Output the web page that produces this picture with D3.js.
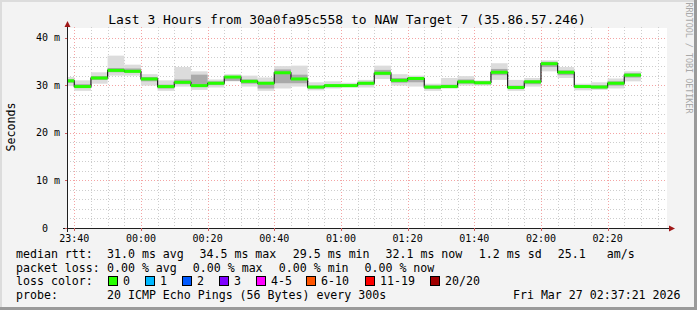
<!DOCTYPE html>
<html><head><meta charset="utf-8">
<script src="https://cdn.jsdelivr.net/npm/d3@7"></script>
<style>
html,body{margin:0;padding:0;background:#f3f3f3;}
svg{display:block;}
text{font-family:"DejaVu Sans Mono",monospace;fill:#000;}
</style></head>
<body>
<svg id="chart" width="697" height="310"></svg>
<script>
// ---- data ----
const title = "Last 3 Hours from 30a0fa95c558 to NAW Target 7 (35.86.57.246)";
const yAxisLabel = "Seconds";
const watermark = "RRDTOOL / TOBI OETIKER";
const intervalStarts = ["23:35","23:40","23:45","23:50","23:55","00:00","00:05","00:10","00:15","00:20","00:25","00:30","00:35","00:40","00:45","00:50","00:55","01:00","01:05","01:10","01:15","01:20","01:25","01:30","01:35","01:40","01:45","01:50","01:55","02:00","02:05","02:10","02:15","02:20","02:25"];
const medianMs = [30.9,29.7,31.5,33.1,32.9,31.3,29.7,30.6,29.9,30.4,31.7,30.8,30.4,32.6,31.3,29.6,29.9,29.9,30.4,32.5,31.0,31.4,29.6,29.7,30.7,30.5,32.7,29.5,30.7,34.5,32.7,29.7,29.6,30.4,32.1];
const smokeMin = [29.8,28.8,30.3,32.0,32.0,29.9,28.8,29.7,29.0,29.5,30.8,29.7,28.8,29.3,29.7,28.9,29.3,29.5,29.5,31.3,29.9,29.7,28.8,29.3,29.9,29.9,31.1,28.8,29.7,32.9,31.5,28.9,29.0,29.3,30.8];
const smokeQ1  = [30.5,29.4,31.1,32.7,32.6,30.8,29.3,30.2,29.6,30.0,30.9,30.3,29.3,30.4,30.4,29.3,29.6,29.7,30.0,32.1,30.5,30.6,29.2,29.5,30.3,30.2,32.1,29.2,30.2,33.8,32.1,29.4,29.3,29.9,31.6];
const smokeQ3  = [31.2,30.2,31.9,33.6,33.5,31.7,30.1,31.2,32.2,30.8,31.9,31.2,30.7,33.3,32.2,29.9,30.2,30.2,30.7,33.2,31.5,31.7,29.9,30.1,31.2,30.8,33.4,29.9,31.0,34.9,33.1,30.0,30.0,30.8,32.5];
const smokeMax = [31.7,31.0,32.7,36.2,34.3,32.3,31.0,33.8,32.9,31.2,32.3,32.0,31.6,34.0,34.1,30.6,30.8,30.5,31.1,34.1,32.3,32.0,30.3,31.5,31.9,31.0,34.6,31.1,31.5,35.2,33.8,30.3,30.6,31.4,32.9];
const yTickValues = [0,10,20,30,40];
const yTickLabels = [" 0  ","10 m","20 m","30 m","40 m"];
const legendRtt = ["median rtt:","31.0 ms avg","34.5 ms max","29.5 ms min","32.1 ms now","1.2 ms sd","25.1","am/s"];
const legendLoss = ["packet loss:","0.00 % avg","0.00 % max","0.00 % min","0.00 % now"];
const lossLabels = ["0","1","2","3","4-5","6-10","11-19","20/20"];
const lossColors = ["#26ff00","#00b8ff","#0059ff","#7e00ff","#ff00ff","#ff5500","#ff0000","#a10000"];
const probeText = ["probe:","20 ICMP Echo Pings (56 Bytes) every 300s","Fri Mar 27 02:37:21 2026"];

// ---- layout ----
const W = 697, H = 310;
const PX0 = 67, PX1 = 667, PY0 = 28, PY1 = 228;
const svg = d3.select("#chart");

const toDate = s => { const [h,m] = s.split(":").map(Number); return new Date(Date.UTC(2026,2, h>=12?26:27, h, m)); };
const rows = intervalStarts.map((s,i)=>({t0:toDate(s), t1:new Date(toDate(s).getTime()+300000),
  med:medianMs[i], mn:smokeMin[i], q1:smokeQ1[i], q3:smokeQ3[i], mx:smokeMax[i]}));

const x = d3.scaleUtc().domain([new Date(Date.UTC(2026,2,26,23,37,49)), new Date(Date.UTC(2026,2,27,2,37,49))]).range([PX0,PX1]);
const y = d3.scaleLinear().domain([0,42]).range([PY1,PY0]);

// background + frame
svg.append("rect").attr("width",W).attr("height",H).attr("fill","#f3f3f3");
svg.append("rect").attr("x",0).attr("y",0).attr("width",W).attr("height",2).attr("fill","#dcdcdc");
svg.append("rect").attr("x",0).attr("y",0).attr("width",2).attr("height",H).attr("fill","#dcdcdc");
svg.append("rect").attr("x",W-3).attr("y",0).attr("width",3).attr("height",H).attr("fill","#9a9a9a");
svg.append("rect").attr("x",0).attr("y",H-3).attr("width",W).attr("height",3).attr("fill","#9a9a9a");
svg.append("rect").attr("x",PX0).attr("y",PY0).attr("width",PX1-PX0).attr("height",PY1-PY0).attr("fill","#fff");

// grid
const g = svg.append("g");
const minorCol = "#cdcdcd", majorCol = "#f4a4a4", dash = "1,2";
const minorY = d3.range(2,42,2).filter(v=>v%10!==0);
g.selectAll(".gy").data(minorY).join("line").attr("x1",PX0).attr("x2",PX1)
  .attr("y1",d=>Math.round(y(d))+0.5).attr("y2",d=>Math.round(y(d))+0.5)
  .attr("stroke",minorCol).attr("stroke-dasharray",dash);
const minorX = x.ticks(d3.utcMinute.every(5)).filter(d=>d.getUTCMinutes()%20!==0);
g.selectAll(".gx").data(minorX).join("line").attr("y1",PY0-1).attr("y2",PY1)
  .attr("x1",d=>Math.round(x(d))+0.5).attr("x2",d=>Math.round(x(d))+0.5)
  .attr("stroke",minorCol).attr("stroke-dasharray",dash);
const majorX = x.ticks(d3.utcMinute.every(20));
g.selectAll(".mx").data(majorX).join("line").attr("y1",PY0-1).attr("y2",PY1)
  .attr("x1",d=>Math.round(x(d))+0.5).attr("x2",d=>Math.round(x(d))+0.5)
  .attr("stroke",majorCol).attr("stroke-dasharray",dash);
g.selectAll(".my").data(yTickValues.filter(v=>v>0)).join("line").attr("x1",PX0).attr("x2",PX1)
  .attr("y1",d=>Math.round(y(d))+0.5).attr("y2",d=>Math.round(y(d))+0.5)
  .attr("stroke",majorCol).attr("stroke-dasharray",dash);

// smoke + median
svg.append("clipPath").attr("id","clip").append("rect").attr("x",PX0).attr("y",PY0-2).attr("width",PX1-PX0).attr("height",PY1-PY0+2);
const plot = svg.append("g").attr("clip-path","url(#clip)");
plot.selectAll(".s0").data(rows).join("rect")
  .attr("x",d=>x(d.t0)).attr("width",d=>x(d.t1)-x(d.t0))
  .attr("y",d=>y(d.mx)).attr("height",d=>y(d.mn)-y(d.mx)).attr("fill","#dcdcdc");
plot.selectAll(".s1").data(rows).join("rect")
  .attr("x",d=>x(d.t0)).attr("width",d=>x(d.t1)-x(d.t0))
  .attr("y",d=>y(d.q3)).attr("height",d=>y(d.q1)-y(d.q3)).attr("fill","#aaaaaa");
const stepPts = rows.flatMap(d=>[[x(d.t0),y(d.med)],[x(d.t1),y(d.med)]]);
plot.append("path").attr("d",d3.line()(stepPts)).attr("fill","none").attr("stroke","#202020").attr("stroke-width",1.2);
plot.selectAll(".med").data(rows).join("rect")
  .attr("x",d=>x(d.t0)).attr("width",d=>x(d.t1)-x(d.t0))
  .attr("y",d=>y(d.med)-1.5).attr("height",3).attr("fill",lossColors[0]);

// axes
const axisCol = "#1f1f1f", arrowCol = "#a01818";
svg.append("line").attr("x1",PX0-4).attr("x2",PX1+4).attr("y1",PY1+0.5).attr("y2",PY1+0.5).attr("stroke",axisCol);
svg.append("line").attr("x1",PX0+0.5).attr("x2",PX0+0.5).attr("y1",PY1+4).attr("y2",PY0-5).attr("stroke",axisCol);
svg.append("path").attr("d",`M${PX1+2},${PY1-2.5}L${PX1+8},${PY1+0.5}L${PX1+2},${PY1+3.5}Z`).attr("fill",arrowCol);
svg.append("path").attr("d",`M${PX0-2.5},${PY0-1}L${PX0+0.5},${PY0-7}L${PX0+3.5},${PY0-1}Z`).attr("fill",arrowCol);
svg.selectAll(".xt").data(majorX).join("line").attr("x1",d=>Math.round(x(d))+0.5).attr("x2",d=>Math.round(x(d))+0.5)
  .attr("y1",PY1).attr("y2",PY1+3).attr("stroke","#d06060");
svg.selectAll(".yt").data(yTickValues).join("line").attr("x1",PX0-2).attr("x2",PX0)
  .attr("y1",d=>Math.round(y(d))+0.5).attr("y2",d=>Math.round(y(d))+0.5).attr("stroke","#d06060");

// tick labels
svg.selectAll(".xl").data(majorX).join("text").attr("x",d=>x(d)).attr("y",241.5)
  .attr("text-anchor","middle").attr("font-size","10px").text(d3.utcFormat("%H:%M"));
svg.selectAll(".yl").data(yTickValues).join("text").attr("x",36).attr("y",d=>y(d)+3.5)
  .attr("font-size","10px").attr("xml:space","preserve").style("white-space","pre").text((d,i)=>yTickLabels[i]);

// titles
svg.append("text").attr("x",347).attr("y",24).attr("text-anchor","middle").attr("font-size","13px").text(title);
svg.append("text").attr("transform","translate(15,127) rotate(-90)").attr("text-anchor","middle").attr("font-size","11.6px").text(yAxisLabel);
svg.append("text").attr("transform","translate(685.5,58) rotate(90)").attr("text-anchor","middle").attr("font-size","8.4px")
  .style("fill","#a8a8a8").text(watermark);

// legend
const LF = "11.6px";
const rttX = [16,107,199.5,292.8,385.5,478.8,557.8,606.8];
legendRtt.forEach((t,i)=>svg.append("text").attr("x",rttX[i]).attr("y",258).attr("font-size",LF).text(t));
const lossX = [16,107,192.8,278.8,364.5];
legendLoss.forEach((t,i)=>svg.append("text").attr("x",lossX[i]).attr("y",271.5).attr("font-size",LF).text(t));
svg.append("text").attr("x",16).attr("y",285).attr("font-size",LF).text("loss color:");
const boxX = [108.5,145.5,182.5,219.5,256.5,306.5,365.5,430.5];
lossLabels.forEach((t,i)=>{
  svg.append("rect").attr("x",boxX[i]).attr("y",276.5).attr("width",9).attr("height",9).attr("fill",lossColors[i]).attr("stroke","#000");
  svg.append("text").attr("x",boxX[i]+14.5).attr("y",285).attr("font-size",LF).text(t);
});
svg.append("text").attr("x",16).attr("y",298.5).attr("font-size",LF).text(probeText[0]);
svg.append("text").attr("x",107).attr("y",298.5).attr("font-size",LF).text(probeText[1]);
svg.append("text").attr("x",680.5).attr("y",298.5).attr("text-anchor","end").attr("font-size",LF).text(probeText[2]);
</script>
</body></html>
